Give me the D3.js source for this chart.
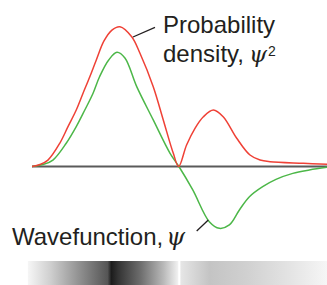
<!DOCTYPE html>
<html>
<head>
<meta charset="utf-8">
<script src="https://cdn.jsdelivr.net/npm/d3@7/dist/d3.min.js"></script>
<style>
html,body{margin:0;padding:0;background:#fff;}
svg{display:block;}
text{font-family:"Liberation Sans",Arial,sans-serif;fill:#231f20;}
</style>
</head>
<body>
<svg id="chart" width="327" height="285"></svg>
<script>
// radial distance samples and values
const densityR = [0, 0.27, 0.54, 0.94, 1.22, 1.50, 1.73, 1.96, 2.18, 2.44, 2.71, 2.98, 3.38, 3.66, 4.11, 4.45, 4.79, 4.97,
                  5.24, 5.53, 5.81, 6.15, 6.48, 6.94, 7.39, 7.73, 8.07, 9.2, 10];
const densityV = [0, 0.014, 0.046, 0.166, 0.285, 0.404, 0.524, 0.642, 0.762, 0.898, 0.976, 1.0, 0.928, 0.81, 0.571, 0.333, 0.094, 0,
                  0.154, 0.275, 0.356, 0.404, 0.356, 0.202, 0.082, 0.046, 0.034, 0.023, 0.016];
const waveR = [0, 0.37, 0.71, 1.16, 1.50, 1.79, 2.07, 2.29, 2.60, 2.88, 3.15, 3.55, 4.11, 4.68, 4.98,
               5.45, 6.01, 6.35, 6.69, 7.03, 7.37, 7.82, 8.27, 8.84, 9.4, 10];
const waveV = [0, 0.014, 0.046, 0.166, 0.285, 0.404, 0.524, 0.642, 0.762, 0.817, 0.776, 0.571, 0.333, 0.094, 0,
               -0.168, -0.395, -0.442, -0.418, -0.311, -0.216, -0.144, -0.092, -0.049, -0.025, -0.006];
const labelDensity = ["Probability", "density,"];
const labelWave = "Wavefunction,";

const svg = d3.select("#chart");
const x = d3.scaleLinear().domain([0, 10]).range([32, 327]);
const y = d3.scaleLinear().domain([0, 1]).range([166.5, 26.7]);

// shading bar
const defs = svg.append("defs");
const g1 = defs.append("linearGradient").attr("id", "g1").attr("x1", "0%").attr("x2", "100%");
[[0, "#f6f6f6"], [0.15, "#cfcfcf"], [0.35, "#8e8e8e"], [0.53, "#555"], [0.555, "#1c1c1c"], [0.6, "#333"],
 [0.75, "#6e6e6e"], [0.9, "#b8b8b8"], [1, "#f2f2f2"]].forEach(s =>
  g1.append("stop").attr("offset", s[0]).attr("stop-color", s[1]));
const g2 = defs.append("linearGradient").attr("id", "g2").attr("x1", "0%").attr("x2", "100%");
[[0, "#e6e6e6"], [0.2, "#c4c4c4"], [0.45, "#d0d0d0"], [0.75, "#e4e4e4"], [1, "#f6f6f6"]].forEach(s =>
  g2.append("stop").attr("offset", s[0]).attr("stop-color", s[1]));
svg.append("rect").attr("x", x(-0.14)).attr("y", 261).attr("width", x(4.96) - x(-0.14)).attr("height", 24).attr("fill", "url(#g1)");
svg.append("rect").attr("x", x(5.03)).attr("y", 261).attr("width", x(10) - x(5.03)).attr("height", 24).attr("fill", "url(#g2)");

// axis line
svg.append("line").attr("x1", x(0)).attr("x2", x(10)).attr("y1", y(0)).attr("y2", y(0))
  .attr("stroke", "#5a5a5a").attr("stroke-width", 2);

const line = d3.line().x(d => x(d[0])).y(d => y(d[1])).curve(d3.curveCatmullRom.alpha(0.5));
svg.append("path").datum(waveR.map((r, i) => [r, waveV[i]])).attr("d", line)
  .attr("fill", "none").attr("stroke", "#4cb748").attr("stroke-width", 1.5);
svg.append("path").datum(densityR.map((r, i) => [r, densityV[i]])).attr("d", line)
  .attr("fill", "none").attr("stroke", "#ef4136").attr("stroke-width", 1.5);

// pointer lines
svg.append("line").attr("x1", 133).attr("y1", 37).attr("x2", 155).attr("y2", 27.3).attr("stroke", "#231f20").attr("stroke-width", 1.3);
svg.append("line").attr("x1", 196.7).attr("y1", 231).attr("x2", 208.3).attr("y2", 220).attr("stroke", "#231f20").attr("stroke-width", 1.3);

// labels
svg.append("text").attr("x", 163).attr("y", 33.3).attr("font-size", 24).text(labelDensity[0]);
const t2 = svg.append("text").attr("x", 163).attr("y", 62).attr("font-size", 24);
t2.append("tspan").text(labelDensity[1]);
t2.append("tspan").attr("dx", 5).attr("font-family", "DejaVu Serif").attr("font-style", "italic").attr("font-size", 23).text("ψ");
t2.append("tspan").attr("font-size", 14).attr("dy", -6).attr("dx", 1).text("2");

const t3 = svg.append("text").attr("x", 12).attr("y", 245).attr("font-size", 24);
t3.append("tspan").text(labelWave);
t3.append("tspan").attr("dx", 3).attr("font-family", "DejaVu Serif").attr("font-style", "italic").attr("font-size", 24).text("ψ");
</script>
</body>
</html>
